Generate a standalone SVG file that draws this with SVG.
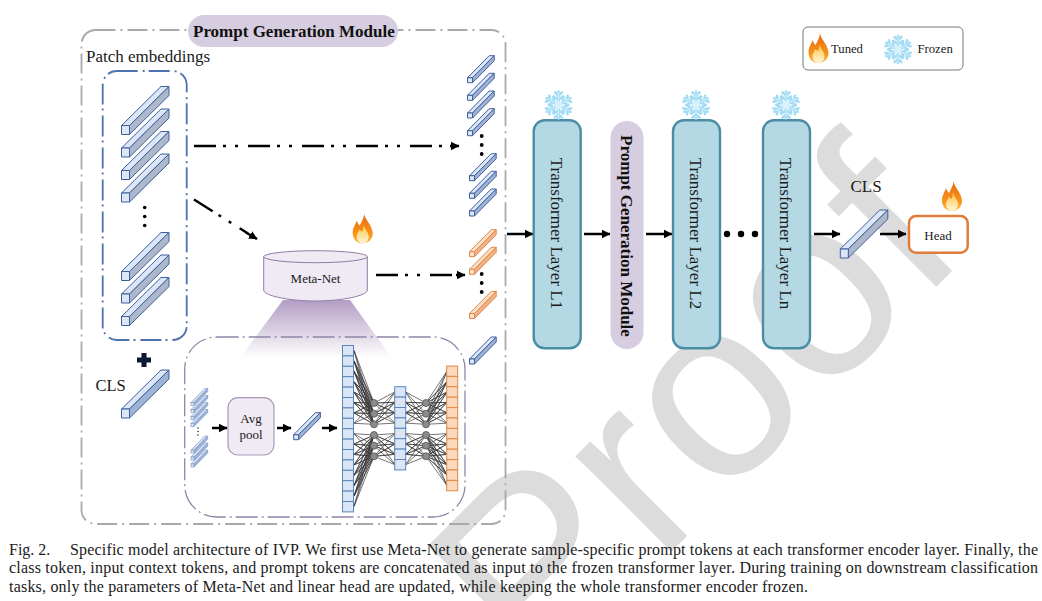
<svg xmlns="http://www.w3.org/2000/svg" width="1042" height="601" viewBox="0 0 1042 601">
<style>
text{font-family:"Liberation Serif","Times New Roman",serif;fill:#1a1a1a}
.b{font-weight:bold;font-size:17px;fill:#111}
.t{font-size:17px;text-anchor:middle}
.l{font-size:17px}
.m{font-size:13px;text-anchor:middle}
.c{font-size:16px}
.tf{fill:#b4d9e4;stroke:#4a8ea5;stroke-width:2.4}
.pill{fill:#d6cde0}
.ar{fill:none;stroke:#000;stroke-width:2.5;marker-end:url(#ah)}
.dd{fill:none;stroke:#000;stroke-width:2.5;stroke-dasharray:22 7 3 9 3 10}
.cb{fill:#dae6f5;stroke:#5b84b8;stroke-width:1}
.co{fill:#fbd9bc;stroke:#e08a45;stroke-width:1}
.nn{fill:none;stroke:#3a3a3a;stroke-width:.7}
.nd{fill:#8c8c8c;stroke:#555;stroke-width:.8}
.dot{fill:#000}
</style>
<defs>
<marker id="ah" markerUnits="userSpaceOnUse" markerWidth="10" markerHeight="10" refX="8" refY="5" orient="auto"><path d="M0 .8L8.5 5L0 9.2z" fill="#000"/></marker>
<linearGradient id="fun" x1="0" y1="0" x2="0" y2="1"><stop offset="0" stop-color="#b39dc4"/><stop offset="1" stop-color="#b39dc4" stop-opacity="0"/></linearGradient>
<linearGradient id="fl1" x1="0" y1="0" x2="0" y2="1"><stop offset="0" stop-color="#e9660c"/><stop offset=".7" stop-color="#f9951c"/><stop offset="1" stop-color="#fdc04a"/></linearGradient>
<linearGradient id="fl2" x1="0" y1="0" x2="0" y2="1"><stop offset="0" stop-color="#fdc43a"/><stop offset="1" stop-color="#fff6dc"/></linearGradient>
<g id="flame"><path d="M11.5 0C12 6 19 11 20 19C20.500 26 15 30 10 30C4 30 0 26 0 19C0 14 3 11 4 7C5 10 6 11 7 12C9 8 11.500 4 11.500 0Z" fill="url(#fl1)"/><path d="M11 11C12 16 16 19 16 23C16 27 13 30 10 30C7 30 4 27 4 23C4 20 6 18 7 16C8 17 9 18 9.500 18C10.500 16 11 13 11 11Z" fill="url(#fl2)"/></g>
<g id="arm" fill="none" stroke-linecap="round"><path d="M0 0V-13.500M0-5L-4.500-8.500M0-5L4.500-8.500M0-9.500L-3.500-12.500M0-9.500L3.500-12.500" stroke="#a3dcf4" stroke-width="2.600"/><path d="M0 0V-12" stroke="#e2f5fc" stroke-width=".8"/></g>
<g id="snow"><use href="#arm"/><use href="#arm" transform="rotate(60)"/><use href="#arm" transform="rotate(120)"/><use href="#arm" transform="rotate(180)"/><use href="#arm" transform="rotate(240)"/><use href="#arm" transform="rotate(300)"/><circle r="3.500" fill="#d8f1fb"/></g>
<g id="big" stroke="#3f5f9c" stroke-width="1" stroke-linejoin="round"><path d="M0 0L39.500-39H47.500L8 0Z" fill="#dbe6f6"/><path d="M8 0L47.500-39V-30L8 9Z" fill="#adb9ca"/><rect width="8" height="9" fill="#dbe6f6"/></g>
<g id="bigb" stroke="#3f5f9c" stroke-width="1" stroke-linejoin="round"><path d="M0 0L39.500-39H47.500L8 0Z" fill="#dbe6f6"/><path d="M8 0L47.500-39V-30L8 9Z" fill="#9fb3d6"/><rect width="8" height="9" fill="#dbe6f6"/></g>
<g id="sb" stroke="#3f5f9c" stroke-width="1" stroke-linejoin="round"><path d="M0 0L21.700-22H26.700L5 0Z" fill="#dbe6f6"/><path d="M5 0L26.700-22V-17L5 5Z" fill="#9fb3d6"/><rect width="5" height="5" fill="#dbe6f6"/></g>
<g id="so" stroke="#dd8a4c" stroke-width="1" stroke-linejoin="round"><path d="M0 0L21.700-22H26.700L5 0Z" fill="#fbe0c8"/><path d="M5 0L26.700-22V-17L5 5Z" fill="#f4b183"/><rect width="5" height="5" fill="#fbe0c8"/></g>
<g id="mini" stroke="#7f9cc8" stroke-width=".7"><path d="M0 0L13.700-14H16.700L3 0Z" fill="#dbe6f6"/><path d="M3 0L16.700-14V-11L3 3Z" fill="#9fb3d6"/><rect width="3" height="3" fill="#dbe6f6"/></g>
</defs>

<g id="watermark"><text transform="translate(538 685) rotate(-45)" style="font-family:'Liberation Sans',sans-serif;font-size:256px;fill:#dcdcdc">Proof</text></g>

<g id="prompt-module-box"><rect x="81.500" y="30" width="424" height="494" rx="14" fill="none" stroke="#a9a9a9" stroke-width="1.800" stroke-dasharray="20 5 2 5"/>
<rect class="pill" x="188" y="15" width="210" height="32" rx="16"/><text class="b" x="193" y="37">Prompt Generation Module</text></g>
<text class="l" x="86" y="62">Patch embeddings</text>

<g id="patch-embeddings"><rect x="102.700" y="71" width="84" height="269" rx="14" fill="none" stroke="#4c72b0" stroke-width="1.800" stroke-dasharray="21 5 2 4"/>
<use href="#big" x="121.500" y="125.500"/><use href="#big" x="121.500" y="148"/><use href="#big" x="121.500" y="170.500"/><use href="#big" x="121.500" y="193"/>
<circle class="dot" cx="144.700" cy="207.500" r="1.800"/><circle class="dot" cx="144.700" cy="216.500" r="1.800"/><circle class="dot" cx="144.700" cy="225.500" r="1.800"/>
<use href="#big" x="121.500" y="271.500"/><use href="#big" x="121.500" y="294"/><use href="#big" x="121.500" y="316.500"/></g>

<g id="cls-left"><path d="M141.500 353h5v4.500h4.500v5h-4.500v4.500h-5v-4.500h-4.500v-5h4.500z" fill="#0b1a33"/>
<use href="#bigb" x="121.500" y="409"/><text x="95.500" y="391" style="font-size:16.500px">CLS</text></g>

<path id="funnel" d="M283 300H350L392 358H240Z" fill="url(#fun)"/>

<g id="meta-net"><path d="M263.700 256.700V290C263.700 296 290 301 315.500 301S367.300 296 367.300 290V256.700Z" fill="#efeaf3" stroke="#8f7ca6" stroke-width="1"/><ellipse cx="315.500" cy="256.700" rx="51.800" ry="6" fill="#efeaf3" stroke="#8f7ca6" stroke-width="1"/><text class="m" x="315.500" y="283">Meta-Net</text>
<use href="#flame" transform="translate(352.700 213.500)"/></g>

<g id="inner-box"><rect x="184.700" y="337" width="280.300" height="180" rx="32" fill="none" stroke="#9384a8" stroke-width="1.300" stroke-dasharray="22 4 2 4"/>
<use href="#mini" x="191" y="402.500"/><use href="#mini" x="191" y="409.500"/><use href="#mini" x="191" y="416.500"/><use href="#mini" x="191" y="423.500"/>
<circle cx="198" cy="428" r=".7"/><circle cx="198" cy="431.500" r=".7"/><circle cx="198" cy="435" r=".7"/>
<use href="#mini" x="191" y="450"/><use href="#mini" x="191" y="457"/><use href="#mini" x="191" y="464"/>
<rect x="228" y="397.700" width="46" height="57.300" rx="10" fill="#efeaf3" stroke="#a899b8" stroke-width="1.200"/>
<text class="m" x="251" y="423">Avg</text><text class="m" x="251" y="439">pool</text>
<use href="#sb" x="293.700" y="434.700"/></g>

<g id="network">
<path class="nn" d="M354 350.500L374 403L354 360.900L374 403L354 371.300L374 403L354 381.700L374 403L354 392.100L374 403L354 402.500L374 403L354 412.900L374 403L354 423.300M354 350.500L374 413.700L354 360.900L374 413.700L354 371.300L374 413.700L354 381.700L374 413.700L354 392.100L374 413.700L354 402.500L374 413.700L354 412.900L374 413.700L354 423.300M354 350.500L374 424.300L354 360.900L374 424.300L354 371.300L374 424.300L354 381.700L374 424.300L354 392.100L374 424.300L354 402.500L374 424.300L354 412.900L374 424.300L354 423.300"/>
<path class="nn" d="M354 433.700L374 435L354 444.100L374 435L354 454.500L374 435L354 464.900L374 435L354 475.300L374 435L354 485.700L374 435L354 496.100L374 435L354 506.500M354 433.700L374 445.700L354 444.100L374 445.700L354 454.500L374 445.700L354 464.900L374 445.700L354 475.300L374 445.700L354 485.700L374 445.700L354 496.100L374 445.700L354 506.500M354 433.700L374 456.300L354 444.100L374 456.300L354 454.500L374 456.300L354 464.900L374 456.300L354 475.300L374 456.300L354 485.700L374 456.300L354 496.100L374 456.300L354 506.500"/>
<path class="nn" d="M395 391.900L374 403L395 402.300L374 403L395 412.700L374 403L395 423.100M395 391.900L374 413.700L395 402.300L374 413.700L395 412.700L374 413.700L395 423.100M395 391.900L374 424.300L395 402.300L374 424.300L395 412.700L374 424.300L395 423.100M395 433.500L374 435L395 443.900L374 435L395 454.300L374 435L395 464.700M395 433.500L374 445.700L395 443.900L374 445.700L395 454.300L374 445.700L395 464.700M395 433.500L374 456.300L395 443.900L374 456.300L395 454.300L374 456.300L395 464.700"/>
<path class="nn" d="M405.500 391.900L426 403L405.500 402.300L426 403L405.500 412.700L426 403L405.500 423.100M405.500 391.900L426 413.700L405.500 402.300L426 413.700L405.500 412.700L426 413.700L405.500 423.100M405.500 391.900L426 424.300L405.500 402.300L426 424.300L405.500 412.700L426 424.300L405.500 423.100M405.500 433.500L426 435L405.500 443.900L426 435L405.500 454.300L426 435L405.500 464.700M405.500 433.500L426 445.700L405.500 443.900L426 445.700L405.500 454.300L426 445.700L405.500 464.700M405.500 433.500L426 456.300L405.500 443.900L426 456.300L405.500 454.300L426 456.300L405.500 464.700"/>
<path class="nn" d="M447 371.200L426 403L447 381.600L426 403L447 392L426 403L447 402.400L426 403L447 412.800L426 403L447 423.200M447 371.200L426 413.700L447 381.600L426 413.700L447 392L426 413.700L447 402.400L426 413.700L447 412.800L426 413.700L447 423.200M447 371.200L426 424.300L447 381.600L426 424.300L447 392L426 424.300L447 402.400L426 424.300L447 412.800L426 424.300L447 423.200M447 433.600L426 435L447 444L426 435L447 454.400L426 435L447 464.800L426 435L447 475.200L426 435L447 485.600M447 433.600L426 445.700L447 444L426 445.700L447 454.400L426 445.700L447 464.800L426 445.700L447 475.200L426 445.700L447 485.600M447 433.600L426 456.300L447 444L426 456.300L447 454.400L426 456.300L447 464.800L426 456.300L447 475.200L426 456.300L447 485.600"/>
<circle class="nd" cx="374" cy="403" r="3.500"/><circle class="nd" cx="374" cy="413.700" r="3.500"/><circle class="nd" cx="374" cy="424.300" r="3.500"/><circle class="nd" cx="374" cy="435" r="3.500"/><circle class="nd" cx="374" cy="445.700" r="3.500"/><circle class="nd" cx="374" cy="456.300" r="3.500"/>
<circle class="nd" cx="426" cy="403" r="3.500"/><circle class="nd" cx="426" cy="413.700" r="3.500"/><circle class="nd" cx="426" cy="424.300" r="3.500"/><circle class="nd" cx="426" cy="435" r="3.500"/><circle class="nd" cx="426" cy="445.700" r="3.500"/><circle class="nd" cx="426" cy="456.300" r="3.500"/>
<g class="cb"><rect x="342.500" y="345.500" width="11" height="10.400"/><rect x="342.500" y="355.900" width="11" height="10.400"/><rect x="342.500" y="366.300" width="11" height="10.400"/><rect x="342.500" y="376.700" width="11" height="10.400"/><rect x="342.500" y="387.100" width="11" height="10.400"/><rect x="342.500" y="397.500" width="11" height="10.400"/><rect x="342.500" y="407.900" width="11" height="10.400"/><rect x="342.500" y="418.300" width="11" height="10.400"/><rect x="342.500" y="428.700" width="11" height="10.400"/><rect x="342.500" y="439.100" width="11" height="10.400"/><rect x="342.500" y="449.500" width="11" height="10.400"/><rect x="342.500" y="459.900" width="11" height="10.400"/><rect x="342.500" y="470.300" width="11" height="10.400"/><rect x="342.500" y="480.700" width="11" height="10.400"/><rect x="342.500" y="491.100" width="11" height="10.400"/><rect x="342.500" y="501.500" width="11" height="10.400"/>
<rect x="394.700" y="386.700" width="11" height="10.400"/><rect x="394.700" y="397.100" width="11" height="10.400"/><rect x="394.700" y="407.500" width="11" height="10.400"/><rect x="394.700" y="417.900" width="11" height="10.400"/><rect x="394.700" y="428.300" width="11" height="10.400"/><rect x="394.700" y="438.700" width="11" height="10.400"/><rect x="394.700" y="449.100" width="11" height="10.400"/><rect x="394.700" y="459.500" width="11" height="10.400"/></g>
<g class="co"><rect x="446.700" y="366" width="11" height="10.400"/><rect x="446.700" y="376.400" width="11" height="10.400"/><rect x="446.700" y="386.800" width="11" height="10.400"/><rect x="446.700" y="397.200" width="11" height="10.400"/><rect x="446.700" y="407.600" width="11" height="10.400"/><rect x="446.700" y="418" width="11" height="10.400"/><rect x="446.700" y="428.400" width="11" height="10.400"/><rect x="446.700" y="438.800" width="11" height="10.400"/><rect x="446.700" y="449.200" width="11" height="10.400"/><rect x="446.700" y="459.600" width="11" height="10.400"/><rect x="446.700" y="470" width="11" height="10.400"/><rect x="446.700" y="480.400" width="11" height="10.400"/></g>
</g>

<g id="tokens">
<use href="#sb" x="467.500" y="77.700"/><use href="#sb" x="467.500" y="95.300"/><use href="#sb" x="467.500" y="113"/><use href="#sb" x="467.500" y="130.700"/>
<circle class="dot" cx="481.700" cy="136" r="1.900"/><circle class="dot" cx="481.700" cy="145" r="1.900"/><circle class="dot" cx="481.700" cy="154" r="1.900"/>
<use href="#sb" x="469.500" y="175.700"/><use href="#sb" x="469.500" y="193.300"/><use href="#sb" x="469.500" y="211"/>
<use href="#so" x="469.500" y="251.700"/><use href="#so" x="469.500" y="269.300"/>
<circle class="dot" cx="481.700" cy="274" r="1.900"/><circle class="dot" cx="481.700" cy="283" r="1.900"/><circle class="dot" cx="481.700" cy="292" r="1.900"/>
<use href="#so" x="469.500" y="313.500"/>
<use href="#sb" x="469.500" y="359"/>
</g>

<g id="connectors">
<path class="dd" d="M194 146H450"/><path class="ar" d="M450 146H459"/>
<path class="dd" d="M194 199.500L248 233.500"/><path class="ar" d="M246 232.500L257 239"/>
<path class="dd" d="M376 275H456"/><path class="ar" d="M456 275H465"/>
<path class="ar" d="M212 428H227"/><path class="ar" d="M277 428H291"/><path class="ar" d="M322 428H337"/>
<path class="ar" d="M507 234H533"/><path class="ar" d="M584 234H610"/><path class="ar" d="M646 234H672"/><path class="ar" d="M814 234H840"/><path class="ar" d="M880 234H906"/>
<circle class="dot" cx="727" cy="234" r="3.200"/><circle class="dot" cx="741" cy="234" r="3.200"/><circle class="dot" cx="755" cy="234" r="3.200"/>
</g>

<g id="layer-l1"><rect class="tf" x="533.700" y="120.300" width="47" height="228" rx="11"/><text class="t" transform="translate(550.500 233.500) rotate(90)">Transformer Layer L1</text><use href="#snow" transform="translate(558.500 105)"/></g>
<g id="prompt-module-2"><rect class="pill" x="610.500" y="121" width="33" height="228" rx="16.500"/><text class="b" style="text-anchor:middle" transform="translate(620.500 236) rotate(90)">Prompt Generation Module</text></g>
<g id="layer-l2"><rect class="tf" x="673" y="120.300" width="47" height="228" rx="11"/><text class="t" transform="translate(690 233.500) rotate(90)">Transformer Layer L2</text><use href="#snow" transform="translate(696 105)"/></g>
<g id="layer-ln"><rect class="tf" x="763" y="120.300" width="47" height="228" rx="11"/><text class="t" transform="translate(780 233.500) rotate(90)">Transformer Layer Ln</text><use href="#snow" transform="translate(786 105)"/></g>

<g id="cls-right"><text class="l" x="850.500" y="192">CLS</text><use href="#big" x="840.300" y="249"/></g>
<g id="head"><rect x="909" y="216" width="58.700" height="36.700" rx="7" fill="#fff" stroke="#e07b39" stroke-width="2.500"/><text class="m" x="938" y="240">Head</text><use href="#flame" transform="translate(942 181)"/></g>

<g id="legend"><rect x="803" y="27" width="160" height="43" rx="5" fill="#fff" stroke="#777" stroke-width="1"/><use href="#flame" transform="translate(808.500 33)"/><text x="831" y="53" style="font-size:12.700px">Tuned</text><use href="#snow" transform="translate(898 49.500)"/><text x="917.500" y="53" style="font-size:12.700px">Frozen</text></g>

<g id="caption">
<text class="c" x="9" y="555">Fig. 2.</text>
<text class="c" x="70" y="555" textLength="968" lengthAdjust="spacing">Specific model architecture of IVP. We first use Meta-Net to generate sample-specific prompt tokens at each transformer encoder layer. Finally, the</text>
<text class="c" x="9" y="573" textLength="1029" lengthAdjust="spacing">class token, input context tokens, and prompt tokens are concatenated as input to the frozen transformer layer. During training on downstream classification</text>
<text class="c" x="9" y="592" textLength="799" lengthAdjust="spacing">tasks, only the parameters of Meta-Net and linear head are updated, while keeping the whole transformer encoder frozen.</text>
</g>
</svg>
